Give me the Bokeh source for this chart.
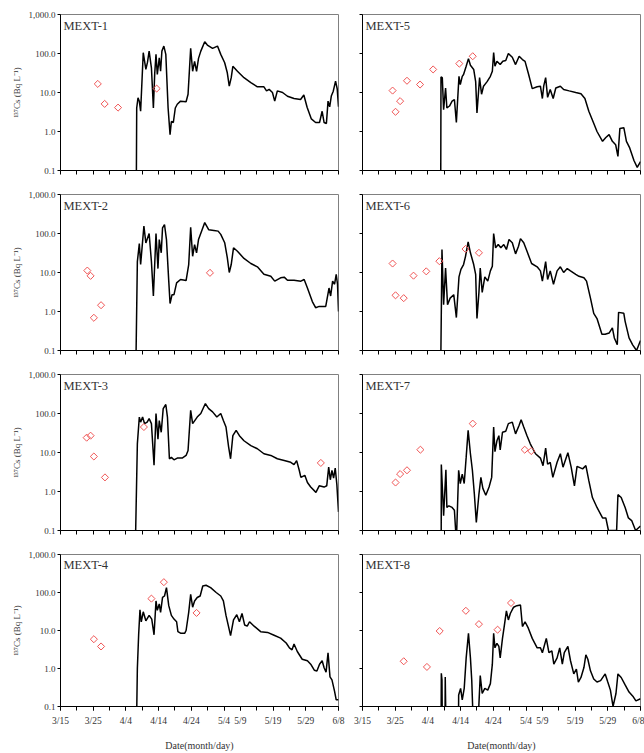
import numpy as np
from bokeh.plotting import figure
from bokeh.layouts import gridplot
from bokeh.models import FixedTicker, Label, ColumnDataSource
from bokeh.embed import file_html
from bokeh.resources import INLINE

# x values are days after 3/15
TICK_DAYS = list(range(0, 90, 5))
LABEL_DAYS = [0, 10, 20, 30, 40, 50, 55, 65, 75, 85]
TICK_LABELS = {0: "3/15", 10: "3/25", 20: "4/4", 30: "4/14", 40: "4/24",
               50: "5/4", 55: "5/9", 65: "5/19", 75: "5/29", 85: "6/8"}
Y_TICKS = [0.1, 1, 10, 100, 1000]
Y_TICK_LABELS = {0.1: "0.1", 1: "1.0", 10: "10.0", 100: "100.0", 1000: "1,000.0"}

STATIONS = ["MEXT-1", "MEXT-2", "MEXT-3", "MEXT-4", "MEXT-5", "MEXT-6", "MEXT-7", "MEXT-8"]

# simulated 137Cs (day, Bq/L)
SIM_1 = [(23.15, 0.01), (23.3, 4), (23.7, 7.3), (24.1, 6), (24.5, 3.3), (25.3, 105), (26.1, 39), (26.6, 60),
         (27.1, 115), (27.8, 43), (28.4, 4), (28.8, 30), (29.2, 95), (29.6, 29), (30.2, 77), (30.6, 35),
         (31.0, 115), (31.6, 155), (32.2, 95), (32.9, 4), (33.5, 0.83), (33.9, 1.8), (34.5, 1.7), (35.1, 4),
         (35.7, 5), (36.7, 6), (38.4, 5.8), (39.0, 9), (39.8, 135), (40.4, 35), (41.0, 63), (41.6, 35),
         (42.2, 75), (42.9, 115), (44.1, 200), (44.9, 165), (46.5, 135), (48.0, 155), (49.0, 95), (50.2, 58),
         (51.0, 32), (51.6, 14.5), (52.2, 24), (52.7, 47), (54.1, 35), (56.1, 24), (58.2, 18), (60.2, 14),
         (62.2, 14), (63.0, 11), (63.8, 12), (64.8, 10), (65.5, 6), (66.3, 11), (67.9, 10), (69.4, 8),
         (71.4, 7), (73.4, 6.6), (74.4, 8.6), (75.4, 4.2), (76.7, 2.1), (78.0, 1.7), (79.2, 1.7), (80.0, 3.3),
         (80.6, 1.7), (81.3, 1.6), (81.8, 6), (82.3, 4.3), (82.8, 8.1), (83.4, 10.8), (84.1, 19.5),
         (84.6, 12.5), (85.0, 4.3)]
SIM_2 = [(22.95, 0.01), (23.5, 19), (24.1, 55), (24.5, 16), (25.5, 155), (26.1, 57), (27.1, 100), (27.8, 19),
         (28.4, 2.5), (29.2, 100), (29.8, 12.6), (30.2, 70), (30.8, 32), (31.2, 140), (31.8, 170), (32.4, 70),
         (33.1, 6), (33.5, 1.6), (34.1, 2.7), (34.7, 2.7), (35.5, 5.4), (36.7, 6.6), (38.4, 6.2), (39.2, 16),
         (39.8, 145), (40.4, 26), (41.0, 52), (41.6, 32), (42.2, 70), (43.3, 125), (44.1, 190), (45.3, 125),
         (46.9, 120), (48.2, 115), (49.0, 95), (50.2, 58), (51.0, 24), (51.6, 10), (52.2, 16), (52.9, 43),
         (54.1, 35), (56.1, 23), (58.2, 17), (60.2, 14), (62.2, 9), (64.3, 8), (65.5, 6), (67.3, 7.3),
         (68.4, 7.6), (69.4, 6.3), (71.4, 6.3), (73.5, 6), (74.5, 6.6), (75.5, 4), (77.0, 1.8), (78.0, 1.25),
         (79.1, 1.35), (81.1, 1.35), (82.1, 4), (82.6, 2.5), (83.2, 6), (83.8, 5), (84.3, 9), (84.7, 5),
         (85.0, 1.0)]
SIM_3 = [(22.75, 0.01), (23.5, 16.6), (24.1, 81), (24.5, 60), (25.1, 81), (25.7, 55), (26.5, 60), (27.1, 74),
         (27.8, 55), (28.6, 4.7), (29.2, 100), (29.8, 22), (30.2, 66), (30.8, 33), (31.4, 133), (32.2, 170),
         (32.7, 81), (33.3, 6.9), (33.9, 7.5), (34.7, 6.5), (35.7, 7.2), (37.2, 7.2), (38.4, 8.4), (39.0, 11.3),
         (39.8, 120), (40.4, 55), (41.8, 81), (42.9, 100), (44.3, 180), (45.3, 133), (46.5, 110), (47.8, 81),
         (49.0, 100), (49.8, 66), (50.6, 45), (51.4, 14), (52.0, 6.9), (52.7, 27), (53.7, 37), (54.7, 27),
         (56.1, 20), (58.2, 15), (60.2, 12.5), (62.2, 9.3), (64.3, 8.4), (66.3, 6.9), (68.4, 6.2), (70.4, 5.6),
         (71.4, 4.9), (72.2, 6.2), (73.0, 3.5), (73.5, 2.3), (74.7, 2.6), (75.5, 1.7), (76.5, 1.3), (78.1, 0.95),
         (79.1, 1.4), (80.6, 1.3), (81.4, 1.4), (82.0, 4.2), (82.5, 2.0), (83.0, 3.5), (83.5, 2.2), (84.0, 4.0),
         (84.5, 1.5), (85.0, 0.3)]
SIM_4 = [(23.15, 0.01), (23.5, 1.0), (23.9, 8), (24.3, 35), (24.7, 16.8), (25.3, 31), (26.1, 18), (27.1, 25),
         (27.9, 20), (28.6, 7.7), (29.2, 60), (29.6, 34), (30.2, 50), (30.6, 30), (31.2, 74), (31.8, 81),
         (32.4, 134), (33.1, 45), (33.9, 25), (34.7, 20), (35.5, 17), (35.9, 9.3), (36.7, 8.5), (38.0, 8.5),
         (38.4, 10), (39.2, 30), (39.8, 90), (40.4, 41), (41.0, 60), (41.8, 74), (42.7, 81), (43.5, 148),
         (44.5, 155), (45.9, 134), (47.6, 100), (49.0, 81), (49.8, 60), (50.6, 25), (51.4, 12.5), (52.0, 7.3),
         (52.9, 19), (53.9, 26), (54.7, 17), (55.5, 28), (56.3, 14), (57.1, 13), (57.8, 17), (59.2, 13),
         (61.2, 9.3), (63.3, 8.9), (65.3, 7.5), (67.3, 6.3), (69.0, 4.7), (70.0, 3.5), (70.8, 3.1), (71.4, 4.4),
         (72.4, 2.8), (73.9, 1.75), (75.5, 1.6), (76.5, 1.3), (77.6, 0.9), (78.4, 0.86), (79.2, 1.3),
         (80.0, 1.6), (80.6, 1.05), (81.2, 0.8), (81.8, 2.6), (82.4, 0.6), (83.0, 0.5), (83.8, 0.25),
         (84.3, 0.15), (85.0, 0.15)]
SIM_5 = [(23.9, 0.01), (24.0, 25), (24.4, 24), (24.8, 3.6), (25.4, 13), (25.8, 4), (26.6, 4.5), (27.4, 6),
         (28.1, 6.6), (28.7, 1.7), (29.5, 26), (29.9, 16), (30.5, 26), (30.9, 29), (31.7, 47), (32.4, 74),
         (33.0, 50), (34.0, 39), (34.6, 19), (35.0, 3), (35.8, 24), (36.4, 9), (37.0, 14.5), (38.1, 19),
         (39.1, 26), (39.7, 35), (40.1, 105), (40.5, 47), (41.1, 63), (42.1, 52), (42.9, 63), (43.8, 66),
         (44.6, 100), (45.8, 80), (46.8, 52), (47.9, 85), (48.9, 70), (49.7, 63), (50.8, 29), (51.9, 12.6),
         (53.4, 14), (54.4, 14.5), (55.0, 7), (55.4, 14.5), (56.0, 24), (56.6, 7.5), (57.4, 12), (58.3, 7),
         (59.1, 13), (60.5, 14.5), (61.5, 12), (63.2, 11), (65.2, 10), (66.8, 9.3), (68.0, 7), (69.2, 3.3),
         (70.6, 1.7), (71.7, 1.0), (73.4, 0.56), (74.4, 0.7), (75.4, 0.83), (76.4, 0.56), (77.4, 0.46),
         (78.1, 0.23), (78.7, 1.2), (79.9, 1.25), (80.7, 0.56), (81.7, 0.38), (83.0, 0.18), (84.0, 0.12),
         (85.0, 0.17)]
SIM_6 = [(23.85, 0.01), (24.3, 39), (24.8, 1.5), (25.4, 13), (26.0, 1.5), (26.8, 2.2), (27.9, 2.7), (28.7, 0.7),
         (29.5, 7.7), (30.1, 12), (30.9, 16), (31.5, 26), (32.3, 61), (33.0, 32), (34.0, 16), (34.6, 9),
         (35.0, 0.66), (35.6, 3.1), (36.0, 13), (36.6, 3.1), (37.4, 7.7), (38.3, 6), (39.1, 11), (39.7, 14.5),
         (40.1, 100), (40.7, 43), (41.5, 52), (42.3, 43), (43.2, 52), (44.0, 39), (44.8, 70), (45.8, 58),
         (46.8, 30), (47.7, 47), (48.3, 74), (49.3, 58), (50.3, 35), (51.7, 17), (53.4, 14), (54.4, 11),
         (55.0, 6), (56.0, 19), (56.6, 6.6), (57.4, 11), (58.4, 5), (59.5, 11), (60.5, 14), (61.5, 10),
         (62.6, 12.6), (63.6, 11), (65.2, 9), (66.2, 8), (67.7, 7.3), (68.5, 6), (69.7, 2.2), (70.7, 0.9),
         (71.7, 0.66), (73.2, 0.26), (74.2, 0.26), (75.4, 0.28), (76.4, 0.38), (77.0, 0.21), (77.9, 0.14),
         (78.3, 0.95), (79.9, 0.9), (80.3, 0.56), (81.5, 0.21), (82.6, 0.14), (83.8, 0.1), (85.0, 0.18)]
SIM_7 = [(24.05, 0.01), (24.1, 4.9), (24.8, 0.24), (25.5, 3.6), (25.8, 0.39), (26.4, 0.43), (27.4, 0.39),
         (28.1, 0.33), (28.7, 0.05), (29.4, 3.5), (29.9, 1.6), (30.5, 2.8), (31.1, 1.6), (31.7, 7.6), (32.3, 37),
         (33.0, 9.3), (33.6, 3.5), (34.2, 0.86), (34.8, 0.16), (35.6, 0.86), (36.2, 2.3), (36.8, 1.2),
         (37.7, 0.8), (38.7, 1.3), (39.5, 2.3), (40.1, 45), (40.5, 10.5), (41.1, 20), (41.7, 27), (42.1, 11.6),
         (42.8, 33), (43.8, 35), (44.6, 55), (45.8, 60), (46.8, 30), (47.9, 50), (48.5, 69), (49.3, 45),
         (50.3, 27), (51.3, 16.7), (52.9, 9.3), (54.4, 7.2), (55.2, 4.6), (56.0, 13), (56.6, 5), (57.4, 5.6),
         (58.2, 2.3), (59.5, 5.6), (60.5, 9.3), (61.3, 4.2), (62.8, 9.9), (63.8, 4.2), (64.8, 1.4), (65.6, 4.4),
         (67.3, 3.8), (68.3, 4.6), (69.2, 1.9), (70.3, 0.7), (71.7, 0.39), (73.4, 0.21), (74.4, 0.21),
         (75.2, 0.1), (77.7, 0.1), (78.1, 0.83), (79.1, 0.7), (80.3, 0.39), (81.3, 0.21), (82.3, 0.18),
         (83.5, 0.1), (85.0, 0.13)]
SIM_8 = [(24.0, 0.01), (24.1, 0.75), (24.3, 0.5), (24.45, 0.01), (25.2, 0.01), (25.3, 0.6), (25.6, 0.01),
         (29.3, 0.01), (29.4, 0.2), (30.0, 0.3), (30.5, 0.15), (31.1, 0.3), (31.7, 1.9), (32.4, 8.4), (33.0, 1.9),
         (33.4, 0.5), (33.8, 0.05), (35.4, 0.05), (36.0, 0.65), (36.6, 0.22), (37.4, 0.3), (38.3, 0.27),
         (39.1, 0.4), (39.7, 1.3), (40.1, 8.4), (40.5, 3.5), (41.1, 4.6), (41.7, 3.8), (42.1, 1.9), (42.8, 6.2),
         (43.4, 14), (44.0, 33), (44.6, 19), (45.2, 28), (46.2, 41), (47.2, 45), (48.3, 47), (48.9, 12.7),
         (49.7, 17), (50.7, 11.5), (51.9, 6.2), (53.4, 3.5), (54.4, 3.5), (55.0, 2.6), (56.2, 6.2), (57.0, 2.6),
         (57.9, 2.9), (58.5, 1.3), (59.5, 1.9), (60.3, 3.5), (61.1, 1.3), (61.7, 2.6), (62.8, 3.8), (63.6, 1.6),
         (64.6, 0.72), (65.4, 0.97), (66.0, 0.44), (66.8, 0.58), (67.7, 1.06), (68.3, 2.3), (68.9, 1.75),
         (69.7, 0.87), (70.7, 0.53), (71.7, 0.44), (72.8, 0.48), (74.2, 0.72), (75.0, 0.44), (75.8, 0.27),
         (76.6, 0.1), (77.5, 0.22), (78.1, 0.72), (79.1, 0.58), (80.3, 0.37), (81.5, 0.24), (82.8, 0.18),
         (83.6, 0.14), (85.0, 0.16)]

# observed 137Cs (day, Bq/L)
OBS_1 = [(11.4, 16.6), (13.5, 5.1), (17.6, 4.1), (29.4, 12.6)]
OBS_2 = [(8.2, 11.2), (9.2, 8.2), (10.2, 0.69), (12.4, 1.45), (45.7, 9.8)]
OBS_3 = [(8.0, 24), (9.2, 27), (10.2, 7.9), (13.6, 2.3), (25.5, 45), (79.6, 5.4)]
OBS_4 = [(10.2, 5.9), (12.4, 3.8), (27.8, 69), (31.6, 187), (41.6, 29)]
OBS_5 = [(9.2, 11.2), (10.1, 3.2), (11.5, 6.0), (13.6, 20), (17.6, 16), (21.6, 39), (29.6, 55), (33.7, 85)]
OBS_6 = [(9.2, 17), (10.1, 2.6), (12.6, 2.2), (15.6, 8.3), (19.5, 10.7), (23.5, 19.5), (31.5, 40), (35.6, 32)]
OBS_7 = [(10.1, 1.7), (11.5, 2.8), (13.6, 3.5), (17.7, 11.8), (33.7, 55), (49.6, 11.8), (51.6, 10.9)]
OBS_8 = [(12.6, 1.55), (19.7, 1.1), (23.6, 9.7), (31.6, 33), (35.6, 14.7), (41.3, 10.5), (45.4, 53)]

SIMS = [SIM_1, SIM_2, SIM_3, SIM_4, SIM_5, SIM_6, SIM_7, SIM_8]
OBSS = [OBS_1, OBS_2, OBS_3, OBS_4, OBS_5, OBS_6, OBS_7, OBS_8]

SERIF = "Liberation Serif"
TXT = "#333333"


def style_ticks(ax, out):
    ax.major_tick_out = out
    ax.major_tick_in = 0
    ax.minor_tick_out = out
    ax.minor_tick_in = 0
    ax.axis_line_color = "black"
    ax.major_tick_line_color = "black"
    ax.minor_tick_line_color = "black"
    ax.major_label_text_font = SERIF
    ax.major_label_text_color = TXT


def make_panel(name, sim, obs, left, bottom):
    p = figure(width=350 if left else 294, height=213 if bottom else 180,
               x_range=(0, 85), y_range=(0.1, 1000), y_axis_type="log",
               output_backend="svg", toolbar_location=None, tools="",
               min_border_left=60 if left else 12, min_border_right=12 if left else 4,
               min_border_top=14, min_border_bottom=43 if bottom else 10)
    p.grid.visible = False
    p.outline_line_color = "#808080"
    p.outline_line_width = 1

    sd = ColumnDataSource(dict(x=[a for a, b in sim], y=[b for a, b in sim]))
    p.line("x", "y", source=sd, line_color="black", line_width=1.5)
    so = ColumnDataSource(dict(x=[a for a, b in obs], y=[b for a, b in obs]))
    p.scatter("x", "y", source=so, marker="square", angle=np.pi / 4, size=5,
              fill_color=None, line_color="#f05555", line_width=1)

    xa = p.xaxis[0]
    style_ticks(xa, 4)
    if bottom:
        xa.ticker = FixedTicker(ticks=LABEL_DAYS, minor_ticks=TICK_DAYS)
        xa.major_label_overrides = TICK_LABELS
        xa.major_label_text_font_size = "9.5px"
        xa.major_label_standoff = 5
        xa.axis_label = "Date(month/day)"
        xa.axis_label_text_font = SERIF
        xa.axis_label_text_font_size = "10px"
        xa.axis_label_text_font_style = "normal"
        xa.axis_label_text_color = TXT
        xa.axis_label_standoff = 11
    else:
        xa.ticker = FixedTicker(ticks=[], minor_ticks=TICK_DAYS)

    ya = p.yaxis[0]
    style_ticks(ya, 3)
    if left:
        ya.ticker = FixedTicker(ticks=Y_TICKS, minor_ticks=[])
        ya.major_label_overrides = Y_TICK_LABELS
        ya.major_label_text_font_size = "9px"
        ya.major_label_standoff = 2
        ya.axis_label = "¹³⁷Cs (Bq L⁻¹)"
        ya.axis_label_text_font = SERIF
        ya.axis_label_text_font_size = "9px"
        ya.axis_label_text_font_style = "normal"
        ya.axis_label_text_color = TXT
        ya.axis_label_standoff = 4
    else:
        ya.ticker = FixedTicker(ticks=[], minor_ticks=Y_TICKS)

    p.add_layout(Label(x=0.9, y=520, text=name, text_font=SERIF, text_font_size="12.5px",
                       text_color=TXT, text_baseline="middle", text_align="left"))
    return p


panels = []
for i in range(8):
    left = i < 4
    bottom = i in (3, 7)
    panels.append(make_panel(STATIONS[i], SIMS[i], OBSS[i], left, bottom))

grid = gridplot([[panels[0], panels[4]], [panels[1], panels[5]],
                 [panels[2], panels[6]], [panels[3], panels[7]]], toolbar_location=None)

open("out.html", "w").write(file_html(grid, INLINE))
